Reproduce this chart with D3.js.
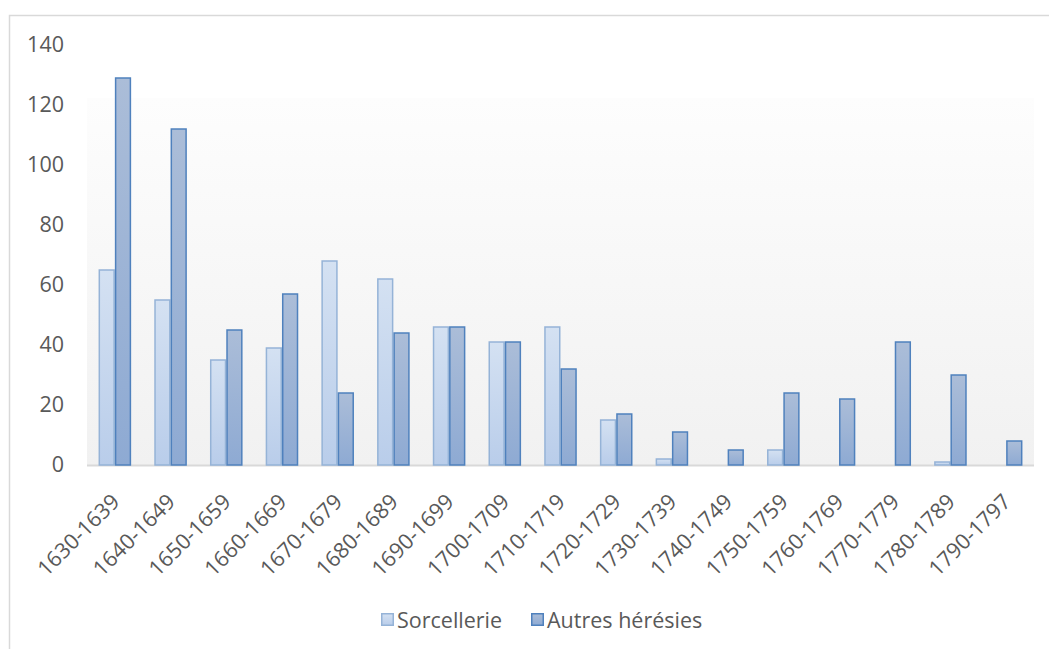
<!DOCTYPE html>
<html>
<head>
<meta charset="utf-8">
<script src="https://cdn.jsdelivr.net/npm/d3@7"></script>
<style>
  body { margin: 0; background: #ffffff; }
  svg { display: block; }
</style>
</head>
<body>
<div id="chart"></div>
<script>
// decades on the x axis
var decades = ["1630-1639", "1640-1649", "1650-1659", "1660-1669", "1670-1679", "1680-1689",
               "1690-1699", "1700-1709", "1710-1719", "1720-1729", "1730-1739", "1740-1749",
               "1750-1759", "1760-1769", "1770-1779", "1780-1789", "1790-1797"];
var seriesNames = ["Sorcellerie", "Autres hérésies"];
var sorcellerie = [65, 55, 35, 39, 68, 62, 46, 41, 46, 15, 2, 0, 5, 0, 0, 1, 0];
var autres = [129, 112, 45, 57, 24, 44, 46, 41, 32, 17, 11, 5, 24, 22, 41, 30, 8];
var yTicks = [0, 20, 40, 60, 80, 100, 120, 140];

var W = 1049, H = 649;
var font = "'Open Sans', 'Liberation Sans', sans-serif";
var fontSize = "21.5px";
var textCol = "#595959";

var svg = d3.select("#chart").append("svg")
            .attr("width", W)
            .attr("height", H);

var defs = svg.append("defs");
//gradients : plot background and the two bar styles
function vGrad(id, c1, c2) {
  var g = defs.append("linearGradient")
              .attr("id", id)
              .attr("x1", 0).attr("y1", 0)
              .attr("x2", 0).attr("y2", 1);
  g.append("stop").attr("offset", "0%").attr("stop-color", c1);
  g.append("stop").attr("offset", "100%").attr("stop-color", c2);
}
vGrad("plotBg", "#fdfdfd", "#f1f1f1");
vGrad("lightBar", "#d4e1f2", "#b9cdea");
vGrad("darkBar", "#abbdd8", "#8eaad3");

//outer chart frame (runs off the right and bottom of the picture)
svg.append("rect")
   .attr("x", 9.5).attr("y", 15.5)
   .attr("width", 1200).attr("height", 800)
   .attr("fill", "#ffffff")
   .attr("stroke", "#d9d9d9")
   .attr("stroke-width", 1.5);

var plot = {left: 87, right: 1034, top: 45, bottom: 465};

var x0 = d3.scaleBand()
           .domain(decades)
           .range([plot.left, plot.right])
           .paddingInner(0.415)
           .paddingOuter(0.2075);

var x1 = d3.scaleBand()
           .domain(seriesNames)
           .range([0, x0.bandwidth()]);

var y = d3.scaleLinear()
          .domain([0, 140])
          .range([plot.bottom, plot.top]);

//plot area background
svg.append("rect")
   .attr("x", plot.left)
   .attr("y", 98)
   .attr("width", plot.right - plot.left)
   .attr("height", plot.bottom - 98)
   .attr("fill", "url(#plotBg)");

// y axis labels, no line
var yAxis = svg.append("g")
               .attr("transform", "translate(" + 70 + ",0)")
               .call(d3.axisLeft(y).tickValues(yTicks).tickSize(0).tickPadding(6));
yAxis.select(".domain").remove();
yAxis.selectAll("text")
     .attr("fill", textCol)
     .style("font-family", font)
     .style("font-size", fontSize);

// x axis line
svg.append("line")
   .attr("x1", plot.left).attr("x2", plot.right)
   .attr("y1", plot.bottom + 0.5).attr("y2", plot.bottom + 0.5)
   .attr("stroke", "#d9d9d9")
   .attr("stroke-width", 2);

//bars
var rows = decades.map(function(d, i) {
  return {name: d, values: [
    {key: seriesNames[0], v: sorcellerie[i]},
    {key: seriesNames[1], v: autres[i]}
  ]};
});

var groups = svg.selectAll(".grp")
                .data(rows)
                .enter().append("g")
                .attr("class", "grp")
                .attr("transform", function(d) { return "translate(" + x0(d.name) + ",0)"; });

groups.selectAll("rect")
      .data(function(d) { return d.values.filter(function(e) { return e.v > 0; }); })
      .enter().append("rect")
      .attr("x", function(d) { return x1(d.key) + 0.75; })
      .attr("y", function(d) { return y(d.v); })
      .attr("width", x1.bandwidth() - 1.5)
      .attr("height", function(d) { return y(0) - y(d.v); })
      .attr("fill", function(d) { return d.key == seriesNames[0] ? "url(#lightBar)" : "url(#darkBar)"; })
      .attr("stroke", function(d) { return d.key == seriesNames[0] ? "#95b3d7" : "#4f81bd"; })
      .attr("stroke-width", 1.5);

// rotated category labels
svg.append("g")
   .selectAll("text")
   .data(decades)
   .enter().append("text")
   .attr("text-anchor", "end")
   .attr("transform", function(d) {
     return "translate(" + (x0(d) + x0.bandwidth() / 2 + 6) + "," + 503 + ") rotate(-45)";
   })
   .attr("fill", textCol)
   .style("font-family", font)
   .style("font-size", fontSize)
   .text(function(d) { return d; });

//legend
var legend = svg.append("g");
var legX = [381, 531];
seriesNames.forEach(function(s, i) {
  legend.append("rect")
        .attr("x", legX[i] + 0.75).attr("y", 613.75)
        .attr("width", 11.5).attr("height", 11.5)
        .attr("fill", i == 0 ? "url(#lightBar)" : "url(#darkBar)")
        .attr("stroke", i == 0 ? "#95b3d7" : "#4f81bd")
        .attr("stroke-width", 1.5);
  legend.append("text")
        .attr("x", legX[i] + 16)
        .attr("y", 627.5)
        .attr("fill", textCol)
        .style("font-family", font)
        .style("font-size", fontSize)
        .text(s);
});
</script>
</body>
</html>
